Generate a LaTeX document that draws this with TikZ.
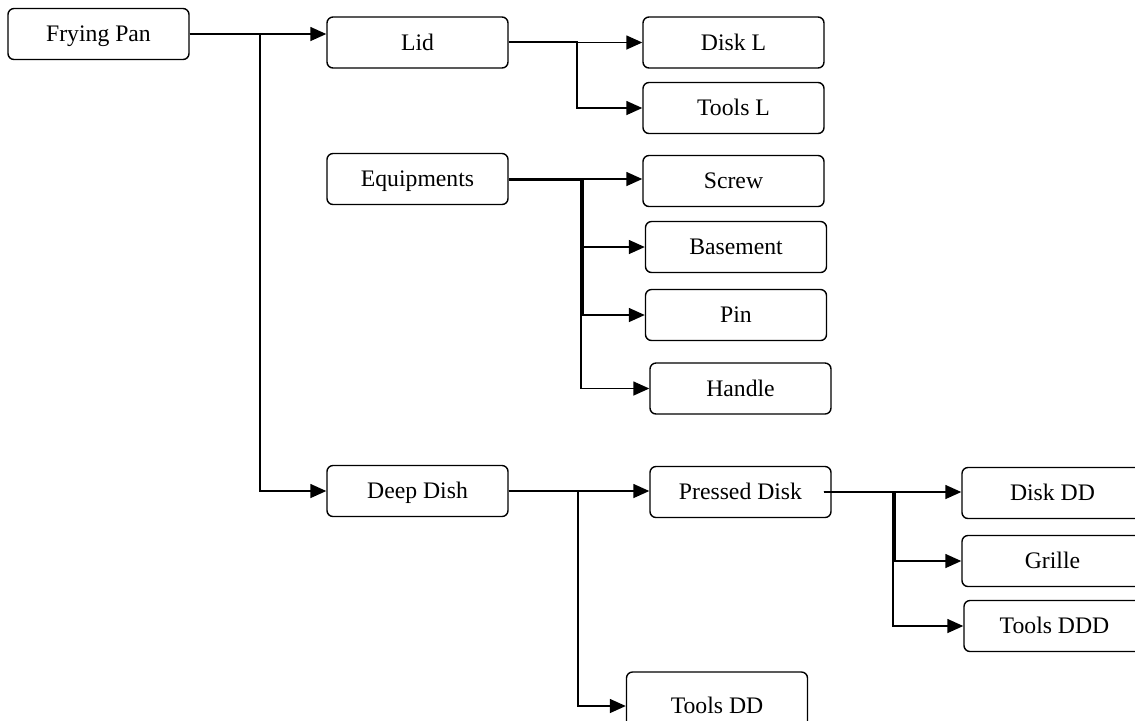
\documentclass[tikz,border=0pt]{standalone}
\usepackage{fontspec}
\setmainfont{Liberation Serif}
\usetikzlibrary{arrows.meta}
\begin{document}
\begin{tikzpicture}[x=0.5pt,y=-0.5pt,
  box/.style={draw, line width=0.7pt, rounded corners=3pt, minimum width=90.5pt,
    minimum height=25.5pt, inner sep=0pt, text height=7.8pt, text depth=0pt,
    font=\fontsize{11.85}{14}\selectfont},
  conn/.style={line width=0.75pt},
  arr/.style={conn, -{Triangle[length=8pt,width=7pt]}}]
\useasboundingbox (0,0) rectangle (1135,720);
% nodes
\node[box] (fp) at (98.5,34) {Frying Pan};
\node[box] (lid) at (417.5,42.5) {Lid};
\node[box] (diskl) at (733.5,42.5) {Disk L};
\node[box] (toolsl) at (733.5,108) {Tools L};
\node[box] (equip) at (417.5,179) {Equipments};
\node[box] (screw) at (733.5,181) {Screw};
\node[box] (base) at (736,247) {Basement};
\node[box] (pin) at (736,315) {Pin};
\node[box] (handle) at (740.5,388.5) {Handle};
\node[box] (deep) at (417.5,491) {Deep Dish};
\node[box] (pressed) at (740.5,492) {Pressed Disk};
\node[box, minimum height=34pt] (toolsdd) at (717,706) {Tools DD};
\node[box] (diskdd) at (1052.5,493) {Disk DD};
\node[box] (grille) at (1052.5,561) {Grille};
\node[box] (toolsddd) at (1054.5,626) {Tools DDD};
% junctions
\coordinate (j1) at (260,34);
\coordinate (j2) at (577,41.5);
\coordinate (j3a) at (581,180);
\coordinate (j3b) at (583,180);
\coordinate (j4) at (578,491);
\coordinate (j5) at (893,492);
\coordinate (j5b) at (895,492);
% connectors
\draw[arr] (fp.east) -- (lid.west |- fp.east);
\draw[arr] (fp.east) -- (j1) |- (deep.west);
\draw[arr] (lid.east) -- (diskl.west);
\draw[arr] ([yshift=0.5pt]lid.east) -- (j2) |- (toolsl.west);
\draw[arr] (equip.east) -- (screw.west |- equip.east);
\draw[arr] ([yshift=-0.5pt]equip.east) -- (j3b) |- (base.west);
\draw[arr] ([yshift=-0.5pt]equip.east) -- (j3b) |- (pin.west);
\draw[arr] ([yshift=-0.5pt]equip.east) -- (j3a) |- (handle.west);
\draw[arr] (deep.east) -- (pressed.west |- deep.east);
\draw[arr] (deep.east) -- (j4) |- (toolsdd.west);
\draw[arr] ([xshift=-4pt]pressed.east) -- (diskdd.west |- pressed.east);
\draw[arr] ([xshift=-4pt]pressed.east) -- (j5b) |- (grille.west);
\draw[arr] ([xshift=-4pt]pressed.east) -- (j5) |- (toolsddd.west);
\end{tikzpicture}
\end{document}
